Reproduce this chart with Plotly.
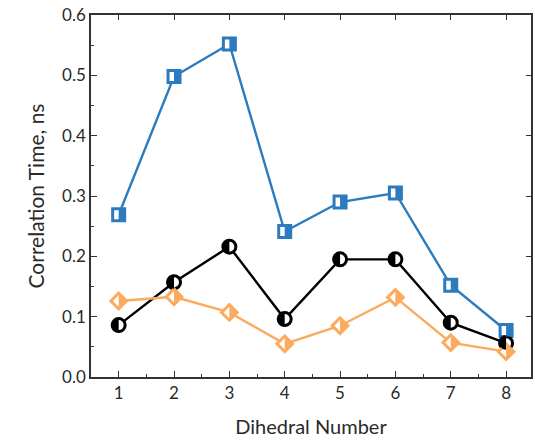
import plotly.graph_objects as go

dihedral = [1, 2, 3, 4, 5, 6, 7, 8]
blue_vals = [0.269, 0.498, 0.552, 0.241, 0.290, 0.305, 0.152, 0.077]
black_vals = [0.086, 0.157, 0.216, 0.096, 0.195, 0.195, 0.090, 0.056]
orange_vals = [0.126, 0.133, 0.107, 0.055, 0.085, 0.132, 0.057, 0.042]

BLUE = "#2B7BBE"
BLACK = "#000000"
ORANGE = "#FCAA5E"
FONT = "Lato"
AX = "#333333"
TXT = "#2a2a2a"

K = 0.5523

def half_circle_left(r):
    return (f"M 0,{r} C {-K*r},{r} {-r},{K*r} {-r},0 "
            f"C {-r},{-K*r} {-K*r},{-r} 0,{-r} Z")

def half_square_right(h):
    return f"M 0,{h} L {h},{h} L {h},{-h} L 0,{-h} Z"

def half_diamond_right(h):
    return f"M 0,{h} L {h},0 L 0,{-h} Z"

fig = go.Figure()

series = [
    (blue_vals, BLUE, "square", 12, half_square_right(6)),
    (black_vals, BLACK, "circle", 13, half_circle_left(6.5)),
    (orange_vals, ORANGE, "diamond", 12, half_diamond_right(12 * 0.65)),
]

shapes = []
for vals, col, sym, size, path in series:
    fig.add_trace(go.Scatter(
        x=dihedral, y=vals, mode="lines+markers",
        line=dict(color=col, width=2.4),
        marker=dict(symbol=sym, size=size, color="white",
                    line=dict(color=col, width=3)),
        showlegend=False, cliponaxis=False,
    ))
    for xv, yv in zip(dihedral, vals):
        shapes.append(dict(
            type="path", xref="x", yref="y", xsizemode="pixel", ysizemode="pixel",
            xanchor=xv, yanchor=yv, path=path, fillcolor=col,
            line=dict(width=0), layer="above",
        ))

# invisible trace for mirrored tick axes
fig.add_trace(go.Scatter(x=[None], y=[None], xaxis="x2", yaxis="y2",
                         showlegend=False, hoverinfo="skip"))

axis_common = dict(
    showline=True, linecolor=AX, linewidth=1.5,
    ticks="inside", ticklen=6, tickwidth=1.3, tickcolor=AX,
    showgrid=False, zeroline=False,
    tickfont=dict(family=FONT, size=17, color=TXT),
)

fig.update_layout(
    width=535, height=441,
    margin=dict(l=91, r=2, t=15, b=64),
    paper_bgcolor="white", plot_bgcolor="white",
    font=dict(family=FONT, color=TXT),
    shapes=shapes,
    xaxis=dict(
        range=[0.5, 8.45], tickvals=dihedral, ticktext=[str(d) for d in dihedral],
        minor=dict(ticks="inside", ticklen=3, tickwidth=1.2, tickcolor=AX,
                   dtick=0.5, tick0=0.5),
        title=dict(text="Dihedral Number", font=dict(family=FONT, size=20, color=TXT),
                   standoff=18),
        mirror=True, **axis_common,
    ),
    yaxis=dict(
        range=[0, 0.6], dtick=0.1, tickformat=".1f",
        minor=dict(ticks="inside", ticklen=3, tickwidth=1.2, tickcolor=AX,
                   dtick=0.05),
        title=dict(text="Correlation Time, ns", font=dict(family=FONT, size=21, color=TXT),
                   standoff=12),
        mirror=True, **axis_common,
    ),
    xaxis2=dict(
        overlaying="x", side="top", range=[0.5, 8.45], tickvals=dihedral,
        showticklabels=False, ticks="inside", ticklen=5, tickwidth=1.3,
        tickcolor=AX, showgrid=False, zeroline=False, showline=False,
    ),
    yaxis2=dict(
        overlaying="y", side="right", range=[0, 0.6], dtick=0.1,
        showticklabels=False, ticks="inside", ticklen=5, tickwidth=1.3,
        tickcolor=AX, showgrid=False, zeroline=False, showline=False,
    ),
)

fig.write_html("out.html")
